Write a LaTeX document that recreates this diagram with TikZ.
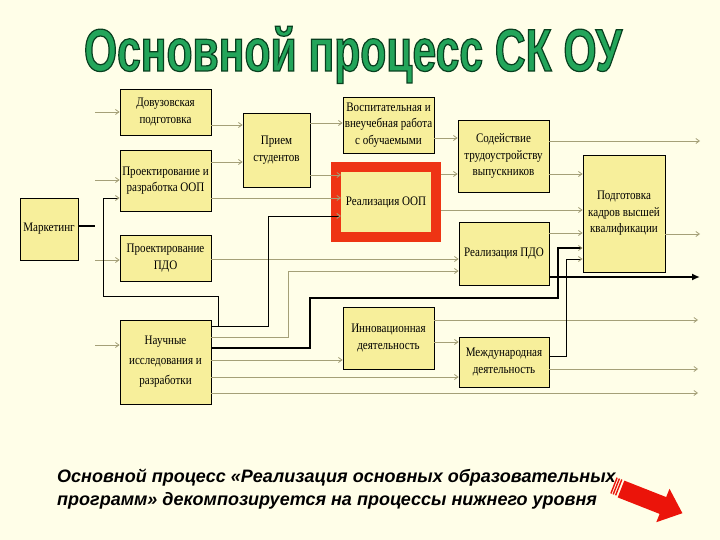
\documentclass[tikz,border=0pt]{standalone}
\usepackage{fontspec}
\usetikzlibrary{arrows.meta,calc}
\newfontfamily\boxfont[FakeStretch=0.85]{Liberation Serif}
\newfontfamily\titlefont[FakeStretch=0.71,FakeBold=2]{Liberation Sans}
\newfontfamily\capfont{Liberation Sans}
\definecolor{bg}{RGB}{255,254,232}
\definecolor{boxy}{RGB}{247,239,155}
\definecolor{lng}{RGB}{165,160,120}
\definecolor{frred}{RGB}{238,52,20}
\definecolor{tgreen}{RGB}{35,165,90}
\definecolor{arrred}{RGB}{235,20,10}
\begin{document}
\begin{tikzpicture}[x=1pt,y=-1pt,
  box/.style={draw=black,line width=0.8pt,fill=boxy,inner sep=1pt,align=center,
    font=\boxfont\fontsize{13}{16.5}\selectfont},
  ln/.style={draw=lng,line width=0.8pt,-{Straight Barb[length=3.5pt,width=5pt]}},
  bl/.style={draw=black,line width=0.9pt,-{Straight Barb[length=3.5pt,width=5pt,color=lng]}},
  blthick/.style={draw=black,line width=1.4pt,-{Straight Barb[length=3.5pt,width=5pt,color=lng,line width=0.8pt]}},
  stub/.style={draw=black,line width=1.2pt},
  bigout/.style={draw=black,line width=1.8pt,-{Latex[length=8pt,width=7pt]}}]
\useasboundingbox (0,0) rectangle (720,540);
\fill[bg] (0,0) rectangle (720,540);

% title (outlined green text)
\node[anchor=base,inner sep=0pt,font=\titlefont\bfseries\fontsize{60}{60}\selectfont] (title) at (353,71)
  {\color{tgreen}\special{pdf:literal 0.03 0.25 0.12 RG}Основной процесс СК ОУ};

% boxes
\node[box,minimum width=58pt,minimum height=62pt] (mk) at (49,229) {Маркетинг};
\node[box,minimum width=91pt,minimum height=46pt] (dov) at (165.5,112) {Довузовская\\подготовка};
\node[box,minimum width=91pt,minimum height=61pt] (poop) at (165.5,180.5) {Проектирование и\\разработка ООП};
\node[box,minimum width=91pt,minimum height=46pt] (ppdo) at (165.5,258) {Проектирование\\ПДО};
\node[box,minimum width=91pt,minimum height=84pt,font=\boxfont\fontsize{13}{20}\selectfont] (nir) at (165.5,362) {Научные\\исследования и\\разработки};
\node[box,minimum width=67pt,minimum height=74pt] (pri) at (276.5,150) {Прием\\студентов};
\node[box,minimum width=91pt,minimum height=56pt] (vosp) at (388.5,125) {Воспитательная и\\внеучебная работа\\с обучаемыми};
\node[draw=frred,line width=10pt,fill=boxy,minimum width=100pt,minimum height=70pt,inner sep=0pt] (roopf) at (386,202) {};
\node[inner sep=0pt,outer sep=0pt,minimum width=90pt,minimum height=60pt,font=\boxfont\fontsize{13}{16.5}\selectfont] (roop) at (386,202) {Реализация ООП};
\node[box,minimum width=91pt,minimum height=72pt] (sod) at (503.5,156) {Содействие\\трудоустройству\\выпускников};
\node[box,minimum width=82pt,minimum height=117pt] (podg) at (624,213.5) {Подготовка\\кадров высшей\\квалификации};
\node[box,minimum width=90pt,minimum height=63pt] (rpdo) at (504,253.5) {Реализация ПДО};
\node[box,minimum width=91pt,minimum height=62pt] (inn) at (388.5,338) {Инновационная\\деятельность};
\node[box,minimum width=90pt,minimum height=50pt] (mezh) at (504,362) {Международная\\деятельность};

% free ends
\coordinate (i1) at (95,112);
\coordinate (i2) at (95,180);
\coordinate (i3) at (95,260);
\coordinate (i4) at (95,345);
\coordinate (mko) at (95,226);
\coordinate (o1) at (700,141);
\coordinate (o2) at (700,234);
\coordinate (o3) at (700,277);
\coordinate (o4) at (698,393);
\coordinate (o5) at (698,320);
\coordinate (o6) at (698,369);

% connectors
\draw[ln] (i1) -- (dov.west |- i1);
\draw[ln] (i2) -- (poop.west |- i2);
\draw[ln] (i3) -- (ppdo.west |- i3);
\draw[ln] (i4) -- (nir.west |- i4);
\draw[stub] (mk.east |- mko) -- (mko);
\draw[ln] (dov.east |- 0,125) -- (pri.west |- 0,125);
\draw[ln] (poop.east |- 0,162) -- (pri.west |- 0,162);
\draw[ln] (poop.east |- 0,198) -- (roop.west |- 0,198);
\draw[ln] (pri.east |- 0,123) -- (vosp.west |- 0,123);
\draw[ln] (pri.east |- 0,175) -- (roop.west |- 0,175);
\draw[ln] (vosp.east |- 0,138) -- (sod.west |- 0,138);
\draw[ln] (roopf.east |- 0,174) -- (sod.west |- 0,174);
\draw[ln] (roopf.east |- 0,210) -- (podg.west |- 0,210);
\draw[ln] (sod.east |- 0,141) -- (o1);
\draw[ln] (sod.east |- 0,174) -- (podg.west |- 0,174);
\draw[ln] (podg.east |- 0,234) -- (o2);
\draw[ln] (rpdo.east |- 0,233) -- (podg.west |- 0,233);
\draw[bigout] (rpdo.east |- 0,277) -- (o3);
\draw[ln] (ppdo.east |- 0,259) -- (rpdo.west |- 0,259);
\draw[ln] (nir.east |- 0,337) -| (288,271) -- (rpdo.west |- 0,271);
\draw[blthick] (nir.east |- 0,348) -| (310,298) -| (558,248) -- (podg.west |- 0,248);
\draw[ln] (nir.east |- 0,360) -- (inn.west |- 0,360);
\draw[ln] (nir.east |- 0,377) -- (mezh.west |- 0,377);
\draw[ln] (nir.east |- 0,393) -- (o4);
\draw[bl] (nir.east |- 0,326) -| (268,216) -- (roop.west |- 0,216);
\draw[bl] (nir.east |- 0,326) -- (218,326) |- (103,296) |- (poop.west |- 0,198);
\draw[ln] (inn.east |- 0,320) -- (o5);
\draw[ln] (inn.east |- 0,342) -- (mezh.west |- 0,342);
\draw[bl] (mezh.east |- 0,356) -| (566,259) -- (podg.west |- 0,259);
\draw[ln] (mezh.east |- 0,369) -- (o6);

% caption
\node[anchor=base west,inner sep=0pt,font=\capfont\bfseries\itshape\fontsize{18}{22}\selectfont] (cap1) at (57,482.7) {Основной процесс «Реализация основных образовательных};
\node[anchor=base west,inner sep=0pt,font=\capfont\bfseries\itshape\fontsize{18}{22}\selectfont] (cap2) at (57,505) {программ» декомпозируется на процессы нижнего уровня};

% red arrow
\fill[arrred] (624.3,480.6) -- (666.2,497.1) -- (669.5,488.8) -- (682.4,513.2) -- (656.3,522.2) -- (659.6,513.9) -- (617.7,497.4) -- cycle;
\draw[arrred,line width=1.4pt] (621.8,479.5) -- (615.6,495.3);
\draw[arrred,line width=1.4pt] (619.4,478.6) -- (613.2,494.4);
\draw[arrred,line width=1.4pt] (617.1,477.7) -- (610.9,493.5);
\end{tikzpicture}
\end{document}
